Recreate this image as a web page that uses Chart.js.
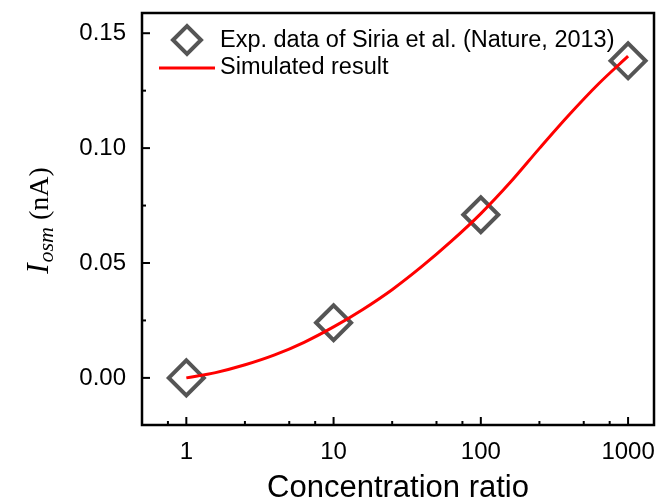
<!DOCTYPE html>
<html>
<head>
<meta charset="utf-8">
<script src="https://cdn.jsdelivr.net/npm/chart.js@4/dist/chart.umd.min.js"></script>
<style>html,body{margin:0;padding:0;background:#fff}</style>
</head>
<body>
<canvas id="chart" width="662" height="504"></canvas>
<script>
// experimental points (Siria et al.)
const expRatio = [1, 10, 100, 1000];
const expCurrent = [0.000, 0.024, 0.071, 0.138];
// simulated curve
const simRatio = [1, 1.58, 2.51, 3.98, 6.31, 10, 15.8, 25.1, 39.8, 63.1, 100, 158, 251, 398, 631, 1000];
const simCurrent = [0, 0.0023, 0.0057, 0.0100, 0.0155, 0.0222, 0.0298, 0.0385, 0.0485, 0.0595, 0.0715, 0.0850, 0.1000, 0.1145, 0.1280, 0.1400];
// axis ticks
const xTicks = [1, 10, 100, 1000];
const xMinorTicks = [0.75, 2.5, 5, 7.5, 25, 50, 75, 250, 500, 750];
const yTicks = [0, 0.05, 0.10, 0.15];
const yMinorTicks = [0.025, 0.075, 0.125];

const sans = "'Liberation Sans', Arial, sans-serif";
const serif = "'Liberation Serif', 'Times New Roman', serif";

// frame, inward ticks, legend and axis titles
const decor = {
    id: 'decor',
    afterDraw(chart) {
        const ctx = chart.ctx;
        const a = chart.chartArea;
        const xs = chart.scales.x, ys = chart.scales.y;
        ctx.save();
        ctx.strokeStyle = '#000';
        ctx.lineWidth = 2;
        xTicks.forEach(v => {
            const p = xs.getPixelForValue(v);
            ctx.beginPath(); ctx.moveTo(p, a.bottom); ctx.lineTo(p, a.bottom - 8); ctx.stroke();
        });
        xMinorTicks.forEach(v => {
            const p = xs.getPixelForValue(v);
            ctx.beginPath(); ctx.moveTo(p, a.bottom); ctx.lineTo(p, a.bottom - 4); ctx.stroke();
        });
        yTicks.forEach(v => {
            const p = ys.getPixelForValue(v);
            ctx.beginPath(); ctx.moveTo(a.left, p); ctx.lineTo(a.left + 8, p); ctx.stroke();
        });
        yMinorTicks.forEach(v => {
            const p = ys.getPixelForValue(v);
            ctx.beginPath(); ctx.moveTo(a.left, p); ctx.lineTo(a.left + 4, p); ctx.stroke();
        });
        ctx.lineWidth = 2.5;
        ctx.strokeRect(a.left, a.top, a.right - a.left, a.bottom - a.top);

        // legend
        const d = chart.data.datasets;
        ctx.strokeStyle = d[1].borderColor;
        ctx.lineWidth = 4;
        const r = 14, lx = 187, ly = 40;
        ctx.beginPath();
        ctx.moveTo(lx - r, ly); ctx.lineTo(lx, ly - r); ctx.lineTo(lx + r, ly); ctx.lineTo(lx, ly + r);
        ctx.closePath(); ctx.stroke();
        ctx.strokeStyle = d[0].borderColor;
        ctx.lineWidth = 3;
        ctx.beginPath(); ctx.moveTo(159, 68); ctx.lineTo(215, 68); ctx.stroke();
        ctx.fillStyle = '#000';
        ctx.font = '23.5px ' + sans;
        ctx.textBaseline = 'middle';
        ctx.textAlign = 'left';
        ctx.fillText(d[1].label, 220, 41);
        ctx.fillText(d[0].label, 220, 68);

        // x title
        ctx.font = '31px ' + sans;
        ctx.textAlign = 'center';
        ctx.fillText('Concentration ratio', (a.left + a.right) / 2, 488);

        // y title: I_osm (nA)
        ctx.translate(38, (a.top + a.bottom) / 2 + 2);
        ctx.rotate(-Math.PI / 2);
        const f1 = 'italic 31px ' + serif, f2 = 'italic 22px ' + serif, f3 = '28px ' + serif;
        ctx.font = f1; const w1 = ctx.measureText('I').width;
        ctx.font = f2; const w2 = ctx.measureText('osm').width;
        ctx.font = f3; const w3 = ctx.measureText(' (nA)').width;
        let x0 = -(w1 + w2 + w3) / 2;
        ctx.textAlign = 'left';
        ctx.textBaseline = 'alphabetic';
        ctx.font = f1; ctx.fillText('I', x0, 10); x0 += w1 + 1;
        ctx.font = f2; ctx.fillText('osm', x0, 15); x0 += w2;
        ctx.font = f3; ctx.fillText(' (nA)', x0, 10);
        ctx.restore();
    }
};

new Chart(document.getElementById('chart'), {
    type: 'scatter',
    data: {
        datasets: [{
            label: 'Simulated result',
            data: simRatio.map((v, i) => ({x: v, y: simCurrent[i]})),
            showLine: true,
            borderColor: '#ff0000',
            borderWidth: 3,
            pointRadius: 0,
            cubicInterpolationMode: 'monotone',
            order: 0
        }, {
            label: 'Exp. data of Siria et al. (Nature, 2013)',
            data: expRatio.map((v, i) => ({x: v, y: expCurrent[i]})),
            pointStyle: 'rectRot',
            pointRadius: 17.5,
            pointBorderWidth: 4,
            borderColor: '#555555',
            backgroundColor: 'rgba(0,0,0,0)',
            order: 1
        }]
    },
    options: {
        responsive: false,
        animation: false,
        layout: {autoPadding: false, padding: {top: 13, right: 8, left: 0, bottom: 0}},
        plugins: {legend: {display: false}, tooltip: {enabled: false}},
        scales: {
            x: {
                type: 'logarithmic',
                min: 0.5,
                max: 1500,
                afterBuildTicks: s => { s.ticks = xTicks.map(v => ({value: v})); },
                afterFit: s => { s.height = 79; s.paddingLeft = 0; s.paddingRight = 0; },
                grid: {display: false, drawTicks: false},
                border: {display: false},
                ticks: {
                    padding: 13,
                    color: '#000',
                    font: {family: sans, size: 24},
                    maxRotation: 0,
                    autoSkip: false,
                    callback: v => String(v)
                }
            },
            y: {
                min: -0.0205,
                max: 0.1588,
                afterBuildTicks: s => { s.ticks = yTicks.map(v => ({value: v})); },
                afterFit: s => { s.width = 142; s.paddingTop = 0; s.paddingBottom = 0; },
                grid: {display: false, drawTicks: false},
                border: {display: false},
                ticks: {
                    padding: 16,
                    color: '#000',
                    font: {family: sans, size: 24},
                    callback: v => v.toFixed(2)
                }
            }
        }
    },
    plugins: [decor]
});
</script>
</body>
</html>
